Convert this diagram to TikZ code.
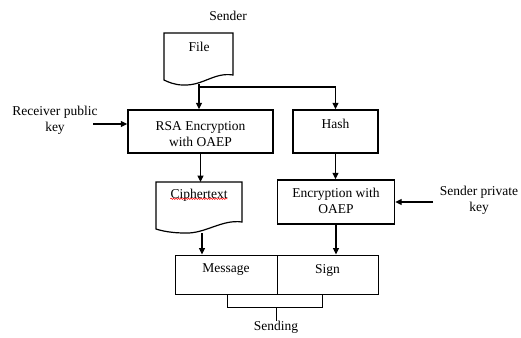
\documentclass[tikz,border=0pt]{standalone}
\usepackage{fontspec}
\setmainfont{Liberation Serif}
\usetikzlibrary{arrows.meta,decorations.pathmorphing}
\begin{document}
\begin{tikzpicture}[x=1pt,y=-1pt,
  font=\fontsize{13.5}{16}\selectfont,
  box/.style={draw, line width=1.4pt, inner sep=0pt, align=center},
  thinbox/.style={draw, line width=0.9pt, inner sep=0pt, align=center},
  doc/.style={draw, line width=1.2pt},
  arr/.style={line width=1.1pt, -{Triangle[length=6.5pt,width=6pt]}},
  ln/.style={line width=1pt},
  txt/.style={inner sep=0pt, align=center}]
\useasboundingbox (0,0) rectangle (521,337);
\fill[white] (0,0) rectangle (521,337);

% Sender
\node[txt] (sender) at (228,16) {Sender};

% File document
\draw[doc] (164,33) -- (233,33) -- (233,75)
  .. controls (214,72) and (203,86) .. (183,85)
  .. controls (175,85) and (168,82) .. (164,80) -- cycle;
\node[txt] (file) at (199,47) {File};
\coordinate (fileb) at (199,84);
\coordinate (split) at (199,87);

% RSA box
\node[box, minimum width=145pt, minimum height=43pt] (rsa) at (200.5,131.5) {};
\node[txt] (rsat) at (200.5,134) {RSA Encryption\\with OAEP};

% Hash box
\node[box, minimum width=85pt, minimum height=43pt] (hash) at (335.5,131.5) {};
\node[txt] (hasht) at (335.5,124) {Hash};

% Receiver public key
\node[txt] (rpk) at (55,120) {Receiver public\\key};
\coordinate (rpke) at (93,124);

% Ciphertext document
\draw[doc] (156,182) -- (242,182) -- (242,222)
  .. controls (222,219) and (205,234) .. (185,233)
  .. controls (172,233) and (162,231) .. (156,229) -- cycle;
\node[txt] (ciph) at (199,195) {Ciphertext};
\draw[red, line width=0.5pt, decorate, decoration={snake, amplitude=0.7pt, segment length=2.5pt}]
  ([yshift=2.5pt]ciph.south west) -- ([yshift=2.5pt]ciph.south east);
\coordinate (ciphb) at (202,233);

% Encryption box
\node[box, minimum width=117pt, minimum height=44pt] (enc) at (336,202) {};
\node[txt] (enct) at (336,201) {Encryption with\\OAEP};

% Sender private key
\node[txt] (spk) at (479,200) {Sender private\\key};
\coordinate (spke) at (433,202);

% Message / Sign
\node[thinbox, minimum width=102pt, minimum height=39pt] (msg) at (226,274.5) {};
\node[txt] (msgt) at (226,270) {Message};
\node[thinbox, minimum width=101pt, minimum height=39pt] (sign) at (327.5,274.5) {};
\node[txt] (signt) at (327.5,270) {Sign};

% Sending
\node[txt] (send) at (276,327) {Sending};
\coordinate (bl) at (227,294);
\coordinate (br) at (322,294);
\coordinate (bc) at (276,307);

% Connectors
\draw[arr] (fileb) -- (fileb |- rsa.north);
\draw[arr] (split) -| (hash.north);
\draw[arr] (rpke) -- (rpke -| rsa.west);
\draw[arr] (rsa.south) -- (rsa.south |- 0,182);
\draw[arr] (hash.south) -- (hash.south |- enc.north);
\draw[arr] (spke) -- (enc.east);
\draw[arr] (ciphb) -- (ciphb |- msg.north);
\draw[arr] (enc.south) -- (enc.south |- sign.north);
\draw[ln] (bl) -- (bl |- bc) -- (br |- bc) -- (br);
\draw[ln] (bc) -- (send.north);
\end{tikzpicture}
\end{document}
